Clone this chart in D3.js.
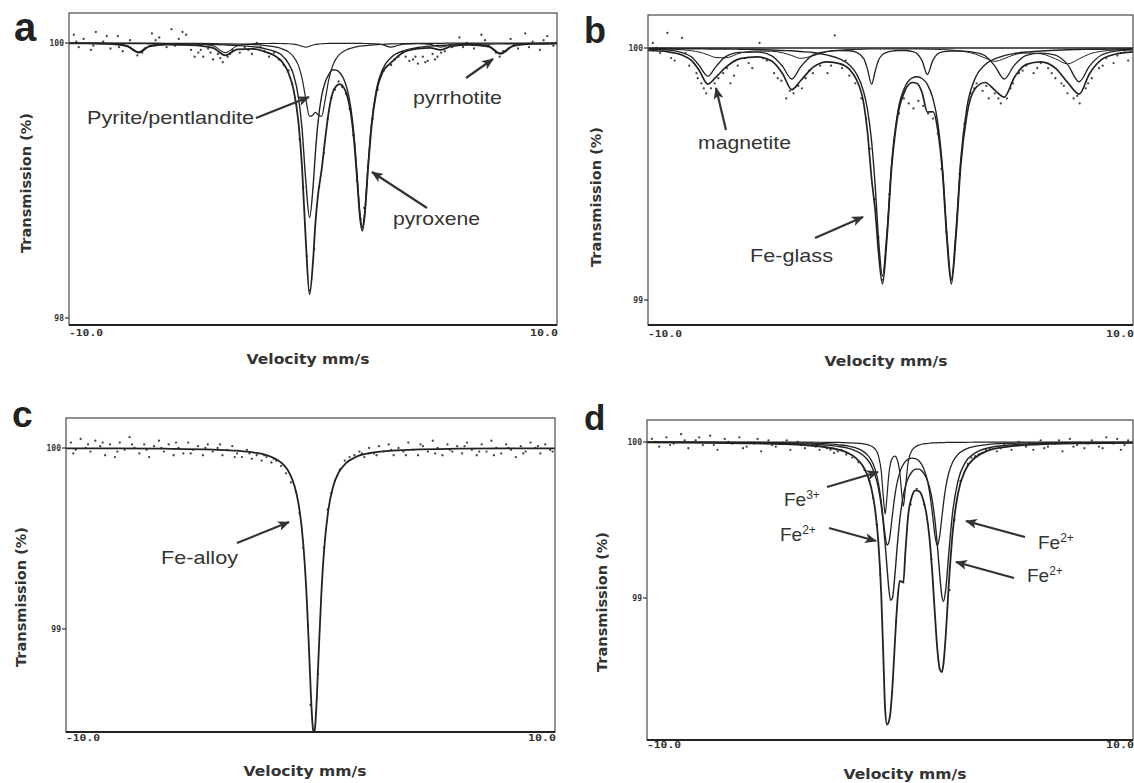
<!DOCTYPE html>
<html>
<head>
<meta charset="utf-8">
<script src="https://cdn.jsdelivr.net/npm/d3@7"></script>
<style>
  html, body { margin: 0; padding: 0; background: #fff; }
  svg { display: block; }
  .note { font-family: "Liberation Sans", Arial, sans-serif; fill: #333; }
  .axt { font-family: "DejaVu Sans", Verdana, sans-serif; font-weight: bold; fill: #333; }
  .tk { font-family: "DejaVu Sans Mono", monospace; font-weight: bold; fill: #333; }
  .letter { font-family: "Liberation Sans", Arial, sans-serif; font-weight: bold; fill: #222; }
</style>
</head>
<body>
<svg id="chart" width="1134" height="783"></svg>
<script>
// ---- panel a : velocity grid and fitted curves (transmission %) ----
const aVel = [-10, -9, -8, -7.6, -7.15, -6.7, -6, -5, -4.1, -3.6, -3.1, -2.5, -2, -1.6, -1.3, -1, -0.8, -0.6, -0.45, -0.3,
  -0.14, 0, 0.1, 0.2, 0.35, 0.5, 0.65, 0.8, 0.95, 1.1, 1.25, 1.4, 1.55, 1.7, 1.82, 1.92, 2.02, 2.12, 2.25, 2.4,
  2.6, 2.85, 3.2, 3.7, 4.3, 4.8, 5.23, 5.7, 6.4, 7.2, 7.68, 8.2, 9, 10];
const aPyrrhotite = [100, 100, 99.993, 99.98, 99.935, 99.98, 99.996, 99.996, 99.98, 99.93, 99.98, 99.995, 99.996, 99.997, 99.996, 99.995, 99.992, 99.985, 99.976, 99.97,
  99.977, 99.985, 99.989, 99.992, 99.995, 99.996, 99.997, 99.997, 99.997, 99.997, 99.997, 99.997, 99.997, 99.997, 99.997, 99.997, 99.997, 99.996, 99.996, 99.995,
  99.994, 99.987, 99.97, 99.992, 99.995, 99.99, 99.97, 99.991, 99.996, 99.98, 99.927, 99.982, 99.996, 99.999];
const aPyrite = [100, 100, 100, 100, 100, 99.999, 99.998, 99.997, 99.996, 99.994, 99.992, 99.989, 99.983, 99.973, 99.96, 99.935, 99.901, 99.837, 99.745, 99.599,
  99.466, 99.477, 99.496, 99.48, 99.466, 99.588, 99.737, 99.832, 99.886, 99.919, 99.939, 99.953, 99.962, 99.969, 99.974, 99.977, 99.979, 99.981, 99.983, 99.985,
  99.988, 99.99, 99.993, 99.995, 99.997, 99.998, 99.998, 99.999, 99.999, 100, 100, 100, 100, 100];
const aPyroxene = [99.997, 99.997, 99.996, 99.996, 99.996, 99.995, 99.994, 99.992, 99.989, 99.986, 99.982, 99.974, 99.96, 99.941, 99.914, 99.85, 99.77, 99.609, 99.378, 99.008,
  98.73, 98.948, 99.206, 99.414, 99.612, 99.717, 99.772, 99.805, 99.803, 99.784, 99.742, 99.665, 99.529, 99.289, 99.006, 98.766, 98.657, 98.77, 99.093, 99.415,
  99.663, 99.808, 99.894, 99.943, 99.967, 99.977, 99.982, 99.986, 99.99, 99.993, 99.994, 99.995, 99.996, 99.997];
const aTotal = [99.997, 99.996, 99.989, 99.976, 99.931, 99.975, 99.988, 99.985, 99.965, 99.91, 99.954, 99.958, 99.939, 99.911, 99.87, 99.78, 99.663, 99.431, 99.099, 98.577,
  98.173, 98.41, 98.692, 98.887, 99.073, 99.302, 99.506, 99.635, 99.687, 99.701, 99.679, 99.616, 99.49, 99.256, 98.978, 98.74, 98.634, 98.748, 99.073, 99.396,
  99.645, 99.786, 99.857, 99.931, 99.959, 99.965, 99.95, 99.978, 99.986, 99.973, 99.921, 99.977, 99.993, 99.996];
const aDots = [[-9.8,100.06],[-9.6,99.97],[-9.4,100.03],[-9.1,99.95],[-8.9,100.08],[-8.6,100.01],[-8.3,99.96],[-8.0,100.05],[-7.8,99.94],[-7.5,100.02],
  [-7.2,99.91],[-6.9,99.96],[-6.6,100.07],[-6.3,100.04],[-6.0,99.97],[-5.8,100.1],[-5.5,100.03],[-5.2,100.06],[-5.0,99.95],[-4.7,99.93],
  [-4.5,99.9],[-4.3,99.96],[-4.1,99.88],[-3.9,99.92],[-3.7,99.86],[-3.5,99.9],[-3.3,99.95],[-3.0,99.93],[-2.8,99.97],[-2.5,99.92],
  [-2.3,100.0],[-2.0,99.94],[-1.8,99.9],[-1.6,99.93],[-1.4,99.88],[-1.2,99.84],[-1.0,99.8],[-0.85,99.7],[-0.7,99.56],[-0.55,99.3],
  [-0.4,98.95],[-0.25,98.45],[-0.15,98.2],[0.05,98.5],[0.25,98.95],[0.45,99.2],[0.6,99.45],[0.75,99.6],[0.9,99.66],[1.05,99.72],
  [1.2,99.68],[1.35,99.63],[1.5,99.52],[1.65,99.33],[1.8,99.0],[1.95,98.72],[2.1,98.8],[2.25,99.1],[2.45,99.45],[2.65,99.66],
  [2.9,99.8],[3.2,99.84],[3.5,99.9],[3.8,99.9],[4.1,99.88],[4.3,99.85],[4.5,99.9],[4.7,99.87],[4.9,99.92],[5.1,99.9],
  [5.4,99.94],[5.7,99.97],[6.0,100.04],[6.3,100.0],[6.6,99.96],[6.9,100.06],[7.2,99.98],[7.5,99.93],[7.8,99.94],[8.1,100.03],
  [8.4,99.96],[8.7,100.07],[9.0,100.01],[9.3,99.95],[9.6,100.05],[9.85,99.98],
  [-9.7,100.01],[-9.0,99.98],[-8.45,100.05],[-7.95,99.97],[-7.35,99.95],[-7.0,99.93],[-6.45,100.02],[-5.65,99.98],[-5.35,100.08],[-4.85,99.9],
  [-4.6,99.95],[-4.2,99.93],[-3.8,99.89],[-3.4,99.92],[-2.65,99.95],[-2.15,99.97],[3.35,99.88],[3.65,99.93],[3.95,99.87],[4.2,99.9],
  [4.6,99.86],[5.0,99.88],[5.25,99.93],[6.15,99.97],[7.05,100.02],[7.65,99.9],[8.25,99.99],[8.85,99.97],[9.45,100.02],[9.95,100.0]];

// ---- panel b ----
const bVel = [-10, -9.2, -8.6, -8.2, -7.9, -7.53, -7.2, -6.8, -6.2, -5.5, -4.9, -4.45, -4.07, -3.7, -3.2, -2.6, -2.1, -1.7, -1.4, -1.1,
  -0.95, -0.78, -0.62, -0.5, -0.33, -0.15, 0.05, 0.3, 0.6, 0.9, 1.1, 1.3, 1.52, 1.75, 1.95, 2.15, 2.33, 2.51, 2.7, 2.9,
  3.15, 3.5, 3.9, 4.3, 4.69, 5.1, 5.6, 6.2, 6.8, 7.3, 7.78, 8.2, 8.7, 9.3, 10];
const bMagnetite = [99.996, 99.992, 99.982, 99.964, 99.932, 99.888, 99.926, 99.966, 99.983, 99.984, 99.969, 99.927, 99.877, 99.926, 99.972, 99.987, 99.99, 99.989, 99.983, 99.958,
  99.916, 99.857, 99.912, 99.95, 99.974, 99.983, 99.988, 99.99, 99.99, 99.986, 99.977, 99.95, 99.895, 99.952, 99.977, 99.985, 99.987, 99.988, 99.988, 99.988,
  99.987, 99.982, 99.969, 99.929, 99.877, 99.931, 99.971, 99.98, 99.972, 99.935, 99.866, 99.927, 99.972, 99.988, 99.993];
const bMagnetite2 = [99.997, 99.996, 99.993, 99.989, 99.984, 99.973, 99.962, 99.961, 99.98, 99.988, 99.987, 99.981, 99.97, 99.959, 99.969, 99.986, 99.991, 99.994, 99.994, 99.995,
  99.996, 99.996, 99.996, 99.996, 99.996, 99.996, 99.996, 99.996, 99.996, 99.996, 99.996, 99.996, 99.995, 99.995, 99.994, 99.994, 99.993, 99.992, 99.99, 99.988,
  99.984, 99.976, 99.96, 99.947, 99.958, 99.973, 99.98, 99.977, 99.957, 99.937, 99.957, 99.976, 99.987, 99.992, 99.995];
const bGlass = [99.998, 99.998, 99.997, 99.997, 99.997, 99.996, 99.996, 99.996, 99.995, 99.994, 99.992, 99.99, 99.989, 99.986, 99.982, 99.972, 99.957, 99.933, 99.897, 99.824,
  99.756, 99.63, 99.436, 99.251, 99.095, 99.263, 99.547, 99.747, 99.846, 99.881, 99.886, 99.879, 99.856, 99.8, 99.703, 99.519, 99.255, 99.085, 99.275, 99.562,
  99.764, 99.882, 99.934, 99.957, 99.97, 99.978, 99.984, 99.988, 99.991, 99.993, 99.994, 99.995, 99.995, 99.996, 99.997];
const bTotal = [99.99, 99.985, 99.972, 99.95, 99.913, 99.857, 99.884, 99.923, 99.958, 99.965, 99.948, 99.898, 99.835, 99.871, 99.923, 99.945, 99.938, 99.916, 99.874, 99.777,
  99.667, 99.482, 99.343, 99.196, 99.064, 99.241, 99.53, 99.732, 99.831, 99.863, 99.859, 99.824, 99.746, 99.747, 99.674, 99.498, 99.235, 99.064, 99.253, 99.538,
  99.735, 99.84, 99.863, 99.833, 99.805, 99.882, 99.935, 99.945, 99.92, 99.864, 99.817, 99.897, 99.954, 99.976, 99.985];
const bBaseVel = [-10, 10];
const bBase = [100, 100];
const bDots = [[-9.8,100.02],[-9.5,99.98],[-9.2,100.06],[-8.9,99.95],[-8.6,100.04],[-8.3,99.93],[-8.0,99.9],[-7.8,99.86],[-7.6,99.82],[-7.4,99.84],
  [-7.1,99.88],[-6.9,99.9],[-6.6,99.86],[-6.3,99.93],[-6.0,99.96],[-5.7,99.92],[-5.4,100.02],[-5.1,99.95],[-4.8,99.9],[-4.5,99.87],
  [-4.3,99.8],[-4.0,99.82],[-3.8,99.85],[-3.5,99.88],[-3.2,99.9],[-2.9,99.93],[-2.6,99.9],[-2.3,100.05],[-2.0,99.92],[-1.7,99.89],
  [-1.45,99.86],[-1.2,99.8],[-1.0,99.72],[-0.85,99.6],[-0.65,99.4],[-0.5,99.25],[-0.35,99.08],[-0.2,99.2],[-0.05,99.42],[0.15,99.63],
  [0.35,99.74],[0.55,99.8],[0.75,99.78],[0.95,99.76],[1.15,99.79],[1.35,99.77],[1.55,99.74],[1.75,99.72],[1.95,99.66],[2.1,99.52],
  [2.3,99.27],[2.5,99.08],[2.65,99.2],[2.85,99.5],[3.05,99.7],[3.3,99.82],[3.55,99.86],[3.8,99.83],[4.05,99.8],[4.3,99.82],
  [4.55,99.78],[4.8,99.8],[5.05,99.86],[5.3,99.9],[5.6,99.93],[5.9,99.9],[6.2,99.94],[6.5,99.92],[6.8,99.88],[7.05,99.86],
  [7.3,99.82],[7.55,99.8],[7.8,99.78],[8.05,99.84],[8.3,99.88],[8.6,99.92],[8.9,99.96],[9.2,99.94],[9.5,99.98],[9.8,99.95],
  [-9.65,100.0],[-9.05,99.96],[-8.45,99.98],[-7.95,99.88],[-7.7,99.84],[-7.25,99.86],[-6.75,99.92],[-6.45,99.89],[-5.85,99.94],[-5.25,99.96],
  [-4.65,99.88],[-4.15,99.83],[-3.65,99.84],[-3.35,99.91],[-2.45,99.93],[-1.85,99.95],[3.45,99.84],[3.95,99.85],[4.45,99.8],[4.95,99.84],
  [5.45,99.91],[6.05,99.92],[6.65,99.9],[7.15,99.85],[7.7,99.81],[8.15,99.86],[8.75,99.93],[9.35,99.97],[9.65,99.99]];

// ---- panel c ----
const cVel = [-10, -8, -6, -4, -3, -2.3, -1.8, -1.4, -1.1, -0.85, -0.65, -0.5, -0.36, -0.25, -0.15, -0.06, 0.02, 0.08, 0.14, 0.2,
  0.26, 0.34, 0.44, 0.56, 0.72, 0.92, 1.15, 1.45, 1.85, 2.4, 3.2, 4.2, 6, 8, 10];
const cAlloy = [99.998, 99.998, 99.996, 99.991, 99.985, 99.975, 99.961, 99.938, 99.907, 99.859, 99.789, 99.7, 99.561, 99.388, 99.157, 98.884, 98.626, 98.477, 98.42, 98.477,
  98.626, 98.884, 99.184, 99.443, 99.649, 99.785, 99.864, 99.916, 99.95, 99.971, 99.984, 99.991, 99.996, 99.998, 99.998];
const cDots = [[-9.8,100.03],[-9.6,99.99],[-9.4,100.05],[-9.2,100.0],[-9.0,99.98],[-8.8,100.04],[-8.6,100.01],[-8.4,99.96],[-8.2,100.02],[-8.0,99.95],
  [-7.8,100.03],[-7.6,99.99],[-7.4,100.06],[-7.2,100.0],[-7.0,99.97],[-6.8,100.02],[-6.6,99.95],[-6.4,100.01],[-6.2,100.04],[-6.0,99.98],
  [-5.8,100.02],[-5.6,99.96],[-5.4,100.0],[-5.2,99.97],[-5.0,100.03],[-4.8,99.99],[-4.6,100.01],[-4.4,99.96],[-4.2,100.02],[-4.0,99.98],
  [-3.8,100.0],[-3.6,99.96],[-3.4,99.99],[-3.2,100.01],[-3.0,99.97],[-2.8,99.95],[-2.6,99.99],[-2.4,99.94],[-2.2,99.96],[-2.0,99.93],
  [-1.8,99.95],[-1.6,99.92],[-1.4,99.93],[-1.2,99.9],[-1.0,99.86],[-0.8,99.81],[-0.6,99.76],[-0.45,99.64],[-0.3,99.45],[-0.1,99.02],
  [0.0,98.58],[0.3,98.75],[0.55,99.45],[0.7,99.66],[0.85,99.75],[1.0,99.82],[1.2,99.88],[1.4,99.93],[1.6,99.95],[1.8,99.96],
  [2.0,99.98],[2.2,99.95],[2.4,100.0],[2.6,99.97],[2.8,100.01],[3.0,99.98],[3.2,100.02],[3.4,99.96],[3.6,100.0],[3.8,99.98],
  [4.0,100.03],[4.2,99.99],[4.4,99.96],[4.6,100.01],[4.8,99.98],[5.0,100.04],[5.2,100.0],[5.4,99.96],[5.6,100.02],[5.8,99.98],
  [6.0,100.01],[6.2,99.97],[6.4,100.03],[6.6,99.99],[6.8,99.96],[7.0,100.02],[7.2,99.98],[7.4,100.04],[7.6,100.0],[7.8,99.97],
  [8.0,100.02],[8.2,99.99],[8.4,99.95],[8.6,100.01],[8.8,99.98],[9.0,100.03],[9.2,100.0],[9.4,99.97],[9.6,100.02],[9.8,99.99],
  [-9.7,99.97],[-9.1,100.02],[-8.5,100.03],[-7.9,99.98],[-7.3,100.02],[-6.7,99.99],[-6.1,100.0],[-5.5,100.03],[-4.9,99.97],[-4.3,100.0],
  [-3.7,100.02],[-3.1,99.95],[-2.5,99.97],[-1.9,99.96],[-1.5,99.94],[2.1,99.97],[2.7,99.96],[3.3,99.99],[3.9,99.96],[4.5,100.02],
  [5.1,99.97],[5.7,99.99],[6.3,100.01],[6.9,99.98],[7.5,99.96],[8.1,100.0],[8.7,99.97],[9.3,100.01],[9.9,99.98]];

// ---- panel d ----
const dVel = [-10, -8, -6, -4.5, -3.5, -2.7, -2.1, -1.7, -1.4, -1.15, -0.95, -0.78, -0.62, -0.48, -0.36, -0.27, -0.2, -0.12, -0.05, 0.02,
  0.1, 0.2, 0.3, 0.4, 0.48, 0.55, 0.63, 0.75, 0.9, 1.05, 1.2, 1.35, 1.5, 1.62, 1.75, 1.85, 1.95, 2.05, 2.13, 2.2,
  2.3, 2.42, 2.58, 2.8, 3.1, 3.5, 4, 4.8, 6, 8, 10];
const dFe2a = [99.998, 99.997, 99.995, 99.992, 99.988, 99.981, 99.971, 99.959, 99.942, 99.92, 99.891, 99.852, 99.791, 99.706, 99.59, 99.467, 99.346, 99.19, 99.063, 98.986,
  98.999, 99.145, 99.336, 99.497, 99.594, 99.658, 99.713, 99.769, 99.808, 99.826, 99.826, 99.808, 99.769, 99.713, 99.614, 99.497, 99.336, 99.144, 99.018, 98.977,
  99.063, 99.289, 99.553, 99.753, 99.869, 99.929, 99.961, 99.979, 99.989, 99.995, 99.997];
const dFe2b = [99.999, 99.999, 99.997, 99.996, 99.993, 99.989, 99.982, 99.974, 99.962, 99.945, 99.921, 99.886, 99.829, 99.74, 99.618, 99.496, 99.402, 99.339, 99.354, 99.424,
  99.533, 99.656, 99.745, 99.804, 99.837, 99.857, 99.874, 99.89, 99.897, 99.894, 99.878, 99.843, 99.778, 99.687, 99.533, 99.4, 99.336, 99.403, 99.511, 99.605,
  99.715, 99.803, 99.872, 99.921, 99.953, 99.972, 99.983, 99.991, 99.995, 99.998, 99.998];
const dFe3 = [100, 100, 100, 99.999, 99.999, 99.998, 99.997, 99.995, 99.993, 99.989, 99.984, 99.975, 99.956, 99.914, 99.813, 99.641, 99.538, 99.659, 99.789, 99.861,
  99.898, 99.909, 99.886, 99.808, 99.674, 99.587, 99.699, 99.873, 99.945, 99.97, 99.981, 99.987, 99.99, 99.992, 99.994, 99.995, 99.995, 99.996, 99.996, 99.996,
  99.997, 99.997, 99.997, 99.998, 99.998, 99.999, 99.999, 99.999, 100, 100, 100];
const dTotal = [99.997, 99.996, 99.992, 99.987, 99.98, 99.968, 99.95, 99.927, 99.897, 99.854, 99.796, 99.712, 99.576, 99.36, 99.021, 98.604, 98.286, 98.188, 98.206, 98.271,
  98.43, 98.71, 98.967, 99.109, 99.105, 99.102, 99.286, 99.532, 99.65, 99.69, 99.684, 99.638, 99.537, 99.392, 99.14, 98.891, 98.667, 98.542, 98.525, 98.578,
  98.774, 99.089, 99.422, 99.671, 99.82, 99.899, 99.943, 99.969, 99.984, 99.992, 99.995];
const dDots = [[-9.8,100.02],[-9.5,99.97],[-9.2,100.03],[-8.9,99.99],[-8.6,100.05],[-8.3,99.96],[-8.0,100.01],[-7.7,99.98],[-7.4,100.04],[-7.1,99.95],
  [-6.8,100.02],[-6.5,99.99],[-6.2,100.03],[-5.9,99.97],[-5.6,99.99],[-5.3,99.94],[-5.0,100.01],[-4.7,99.97],[-4.4,99.99],[-4.1,99.95],
  [-3.8,100.0],[-3.5,99.96],[-3.2,99.98],[-2.9,99.95],[-2.6,99.96],[-2.3,99.93],[-2.0,99.95],[-1.8,99.92],[-1.55,99.9],[-1.3,99.87],
  [-1.05,99.82],[-0.85,99.75],[-0.7,99.64],[-0.55,99.47],[-0.4,99.15],[0.25,98.85],[0.55,99.1],[0.85,99.6],[1.1,99.7],[1.4,99.6],
  [1.7,99.25],[2.45,99.05],[2.65,99.5],[2.9,99.75],[3.2,99.86],[3.5,99.91],[3.8,99.93],[4.1,99.96],[4.4,99.94],[4.7,99.98],
  [5.0,99.95],[5.3,100.0],[5.6,99.97],[5.9,99.95],[6.2,100.01],[6.5,99.97],[6.8,99.99],[7.1,99.94],[7.4,100.02],[7.7,99.98],
  [8.0,99.96],[8.3,100.01],[8.6,99.97],[8.9,100.03],[9.2,99.99],[9.5,99.95],[9.8,100.01],
  [-9.65,100.0],[-9.05,99.98],[-8.45,100.01],[-7.85,100.03],[-7.25,99.98],[-6.65,100.0],[-6.05,99.96],[-5.45,100.02],[-4.85,99.98],[-4.25,100.01],
  [-3.65,99.98],[-3.05,99.97],[-2.45,99.95],[-2.15,99.94],[3.35,99.9],[3.65,99.92],[3.95,99.95],[4.55,99.96],[5.15,99.98],[5.75,99.99],
  [6.35,99.96],[6.95,100.01],[7.55,99.97],[8.15,99.99],[8.75,99.96],[9.35,100.02],[9.65,99.98]];

// tick labels
const velTicks = [-10, 10];
const velTickLabels = ["-10.0", "10.0"];
const aYTicks = [98, 100];
const bYTicks = [99, 100];
const cYTicks = [99, 100];
const dYTicks = [99, 100];

const svg = d3.select("#chart");
const defs = svg.append("defs");
defs.append("marker")
    .attr("id", "head")
    .attr("viewBox", "0 0 12 10")
    .attr("refX", 11).attr("refY", 5)
    .attr("markerWidth", 12).attr("markerHeight", 10)
    .attr("markerUnits", "userSpaceOnUse")
    .attr("orient", "auto")
  .append("path")
    .attr("d", "M0,0 L12,5 L0,10 L3,5 Z")
    .attr("fill", "#333");

// layout of the four panels (pixel boxes, tick anchor pixels, label spots)
const panels = [
  {
    letter: "a", letterPos: [14, 41, 40],
    box: { l: 69, r: 557, t: 13, b: 325 }, yTicks: aYTicks, yPix: [318, 43],
    curves: [
      { vel: aVel, t: aPyrrhotite, w: 1.1 },
      { vel: aVel, t: aPyrite, w: 1.2 },
      { vel: aVel, t: aPyroxene, w: 1.4 },
      { vel: aVel, t: aTotal, w: 1.8 }
    ],
    dots: aDots,
    xLabY: 336, xTitle: [308, 364], yTitle: [31, 183],
    notes: [
      { text: "Pyrite/pentlandite", x: 87, y: 123.5, len: 167 },
      { text: "pyrrhotite", x: 413, y: 104, len: 89 },
      { text: "pyroxene", x: 393, y: 225, len: 87 }
    ],
    arrows: [[256, 118, 309, 97], [466, 78, 493, 59], [427, 208, 372, 172]]
  },
  {
    letter: "b", letterPos: [584, 43, 36],
    box: { l: 648, r: 1133, t: 15, b: 325 }, yTicks: bYTicks, yPix: [300, 48],
    curves: [
      { vel: bBaseVel, t: bBase, w: 1.3 },
      { vel: bVel, t: bMagnetite2, w: 1.0 },
      { vel: bVel, t: bMagnetite, w: 1.3 },
      { vel: bVel, t: bGlass, w: 1.4 },
      { vel: bVel, t: bTotal, w: 1.7 }
    ],
    dots: bDots,
    xLabY: 337, xTitle: [886, 366], yTitle: [601, 197],
    notes: [
      { text: "magnetite", x: 698, y: 149, len: 93 },
      { text: "Fe-glass", x: 750, y: 261.5, len: 83 }
    ],
    arrows: [[726, 130, 716, 88], [815, 238, 863, 217]]
  },
  {
    letter: "c", letterPos: [12, 427, 37],
    box: { l: 66, r: 555, t: 418, b: 732 }, yTicks: cYTicks, yPix: [629, 448],
    curves: [{ vel: cVel, t: cAlloy, w: 1.8 }],
    dots: cDots,
    xLabY: 741, xTitle: [305, 776], yTitle: [26, 597],
    notes: [{ text: "Fe-alloy", x: 161, y: 564, len: 77 }],
    arrows: [[237, 543, 289, 522]]
  },
  {
    letter: "d", letterPos: [584, 430, 35],
    box: { l: 647, r: 1133, t: 420, b: 740 }, yTicks: dYTicks, yPix: [598, 442],
    curves: [
      { vel: dVel, t: dFe3, w: 1.2 },
      { vel: dVel, t: dFe2b, w: 1.3 },
      { vel: dVel, t: dFe2a, w: 1.4 },
      { vel: dVel, t: dTotal, w: 1.8 }
    ],
    dots: dDots,
    xLabY: 748, xTitle: [905, 779], yTitle: [607, 602],
    notes: [
      { text: "Fe", sup: "3+", x: 784, y: 505.5 },
      { text: "Fe", sup: "2+", x: 780, y: 540.5 },
      { text: "Fe", sup: "2+", x: 1038, y: 549 },
      { text: "Fe", sup: "2+", x: 1027, y: 582 }
    ],
    arrows: [[827, 487, 878, 472], [829, 528, 876, 541], [1025, 537, 966, 521], [1014, 578, 956, 562]]
  }
];

function drawPanel(p) {
  const x = d3.scaleLinear().domain([-10, 10]).range([p.box.l, p.box.r]);
  const y = d3.scaleLinear().domain(p.yTicks).range(p.yPix);
  const g = svg.append("g");

  const clipId = "clip-" + p.letter;
  defs.append("clipPath").attr("id", clipId)
    .append("rect")
      .attr("x", p.box.l).attr("y", p.box.t)
      .attr("width", p.box.r - p.box.l).attr("height", p.box.b - p.box.t);

  const plot = g.append("g").attr("clip-path", `url(#${clipId})`);

  // measured points
  plot.selectAll("circle")
    .data(p.dots)
    .join("circle")
      .attr("cx", d => x(d[0]))
      .attr("cy", d => y(d[1]))
      .attr("r", 1.15)
      .attr("fill", "#444");

  // fitted subspectra and envelope
  const line = d3.line()
    .x(d => x(d[0]))
    .y(d => y(d[1]))
    .curve(d3.curveMonotoneX);

  plot.selectAll("path.fit")
    .data(p.curves)
    .join("path")
      .attr("class", "fit")
      .attr("d", c => line(d3.zip(c.vel, c.t)))
      .attr("fill", "none")
      .attr("stroke", "#222")
      .attr("stroke-width", c => c.w)
      .attr("stroke-linejoin", "round");

  // frame
  g.append("rect")
    .attr("x", p.box.l).attr("y", p.box.t)
    .attr("width", p.box.r - p.box.l).attr("height", p.box.b - p.box.t)
    .attr("fill", "none").attr("stroke", "#4a4a4a").attr("stroke-width", 1.2);
  g.append("line")
    .attr("x1", p.box.l).attr("x2", p.box.r)
    .attr("y1", p.box.b).attr("y2", p.box.b)
    .attr("stroke", "#222").attr("stroke-width", 2.2);

  // y ticks
  g.selectAll("line.ytick")
    .data(p.yTicks)
    .join("line")
      .attr("class", "ytick")
      .attr("x1", p.box.l - 4).attr("x2", p.box.l)
      .attr("y1", d => y(d)).attr("y2", d => y(d))
      .attr("stroke", "#333").attr("stroke-width", 1.2);
  g.selectAll("text.ytl")
    .data(p.yTicks)
    .join("text")
      .attr("class", "tk ytl")
      .attr("x", p.box.l - 5)
      .attr("y", d => y(d) + 2.8)
      .attr("text-anchor", "end")
      .attr("font-size", 8)
      .text(d => d);

  // velocity end labels
  g.selectAll("text.xtl")
    .data(velTicks)
    .join("text")
      .attr("class", "tk xtl")
      .attr("x", (d, k) => k === 0 ? x(d) : x(d) + 1)
      .attr("y", p.xLabY)
      .attr("text-anchor", (d, k) => k === 0 ? "start" : "end")
      .attr("font-size", 9.5)
      .attr("textLength", (d, k) => k === 0 ? 34 : 28)
      .attr("lengthAdjust", "spacingAndGlyphs")
      .text((d, k) => velTickLabels[k]);

  // axis titles
  g.append("text")
    .attr("class", "axt")
    .attr("x", p.xTitle[0]).attr("y", p.xTitle[1])
    .attr("text-anchor", "middle")
    .attr("font-size", 14)
    .attr("textLength", 123)
    .attr("lengthAdjust", "spacingAndGlyphs")
    .text("Velocity mm/s");
  g.append("text")
    .attr("class", "axt")
    .attr("transform", `translate(${p.yTitle[0]},${p.yTitle[1]}) rotate(-90)`)
    .attr("text-anchor", "middle")
    .attr("font-size", 14)
    .attr("textLength", 140)
    .attr("lengthAdjust", "spacingAndGlyphs")
    .text("Transmission (%)");

  // panel letter
  g.append("text")
    .attr("class", "letter")
    .attr("x", p.letterPos[0]).attr("y", p.letterPos[1])
    .attr("font-size", p.letterPos[2])
    .text(p.letter);

  // annotations
  p.notes.forEach(n => {
    const t = g.append("text")
      .attr("class", "note")
      .attr("x", n.x).attr("y", n.y)
      .attr("font-size", 19);
    if (n.sup) {
      t.append("tspan").text(n.text);
      t.append("tspan").attr("font-size", 12).attr("dy", -7).text(n.sup);
    } else {
      t.attr("textLength", n.len).attr("lengthAdjust", "spacingAndGlyphs").text(n.text);
    }
  });

  g.selectAll("line.arrow")
    .data(p.arrows)
    .join("line")
      .attr("class", "arrow")
      .attr("x1", d => d[0]).attr("y1", d => d[1])
      .attr("x2", d => d[2]).attr("y2", d => d[3])
      .attr("stroke", "#333")
      .attr("stroke-width", 2.2)
      .attr("marker-end", "url(#head)");
}

panels.forEach(drawPanel);
</script>
</body>
</html>
